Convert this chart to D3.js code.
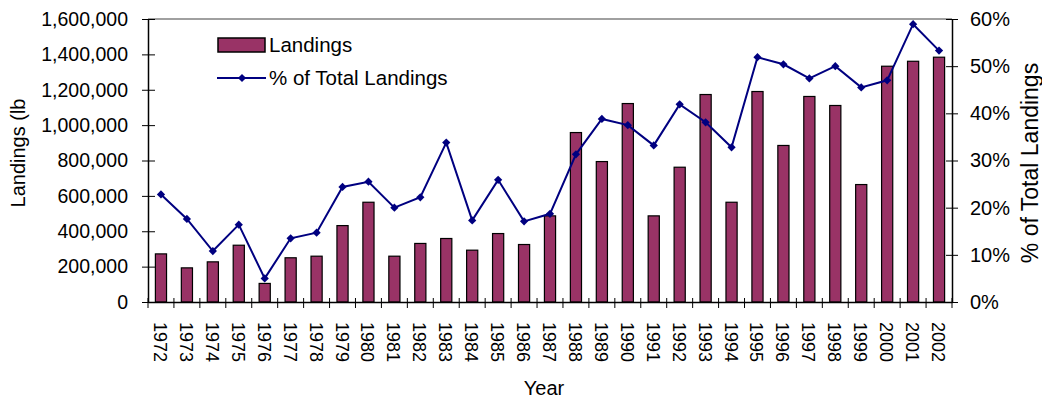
<!DOCTYPE html>
<html>
<head>
<meta charset="utf-8">
<script src="https://cdn.jsdelivr.net/npm/d3@7"></script>
<style>
  body { margin: 0; background: #fff; }
  text { font-family: "Liberation Sans", Arial, sans-serif; fill: #000; }
</style>
</head>
<body>
<div id="chart"></div>
<script>
// Data
var years = ["1972","1973","1974","1975","1976","1977","1978","1979","1980","1981",
             "1982","1983","1984","1985","1986","1987","1988","1989","1990","1991",
             "1992","1993","1994","1995","1996","1997","1998","1999","2000","2001","2002"];
var landings = [272000, 193000, 227000, 321000, 105000, 250000, 259000, 432000, 564000, 259000,
                331000, 359000, 293000, 387000, 325000, 487000, 958000, 794000, 1122000, 487000,
                762000, 1173000, 564000, 1190000, 885000, 1162000, 1111000, 664000, 1333000, 1361000, 1384000];
var pctTotal = [22.8, 17.6, 10.8, 16.4, 5.0, 13.5, 14.7, 24.4, 25.5, 20.0,
                22.2, 33.8, 17.3, 25.9, 17.1, 18.7, 31.3, 38.8, 37.5, 33.2,
                41.9, 38.1, 32.8, 51.9, 50.4, 47.4, 50.0, 45.5, 47.0, 58.9, 53.3];
var leftTicks = [0, 200000, 400000, 600000, 800000, 1000000, 1200000, 1400000, 1600000];
var rightTicks = [0, 10, 20, 30, 40, 50, 60];

var svgWidth = 1042;
var svgHeight = 400;
var margin = { top: 19, right: 90, bottom: 98, left: 148 };
var width = svgWidth - margin.left - margin.right;
var height = svgHeight - margin.top - margin.bottom;

var svg = d3.select("#chart")
    .append("svg")
    .attr("width", svgWidth)
    .attr("height", svgHeight);

var chartGroup = svg.append("g")
    .attr("transform", `translate(${margin.left}, ${margin.top})`);

// Scales
var xBand = d3.scaleBand().domain(years).range([0, width]).padding(0);
var yLeft = d3.scaleLinear().domain([0, 1600000]).range([height, 0]);
var yRight = d3.scaleLinear().domain([0, 60]).range([height, 0]);

// top border of plot area
chartGroup.append("line")
    .attr("x1", 0).attr("x2", width)
    .attr("y1", 0).attr("y2", 0)
    .attr("stroke", "#808080")
    .attr("stroke-width", 1.5);

// Bars
var barW = xBand.bandwidth() * 0.43;
chartGroup.append("g")
    .selectAll("rect")
    .data(landings)
    .enter()
    .append("rect")
    .attr("x", (d, i) => xBand(years[i]) + xBand.bandwidth() / 2 - barW / 2)
    .attr("y", d => yLeft(d))
    .attr("width", barW)
    .attr("height", d => height - yLeft(d))
    .attr("fill", "#993366")
    .attr("stroke", "#000")
    .attr("stroke-width", 1.2);

// Line
var line = d3.line()
    .x((d, i) => xBand(years[i]) + xBand.bandwidth() / 2)
    .y(d => yRight(d));

chartGroup.append("path")
    .datum(pctTotal)
    .attr("d", line)
    .attr("fill", "none")
    .attr("stroke", "#000080")
    .attr("stroke-width", 2);

var diamond = d3.symbol().type(d3.symbolSquare).size(34);
chartGroup.append("g")
    .selectAll("path")
    .data(pctTotal)
    .enter()
    .append("path")
    .attr("d", diamond)
    .attr("transform", (d, i) => `translate(${xBand(years[i]) + xBand.bandwidth() / 2}, ${yRight(d)}) rotate(45)`)
    .attr("fill", "#000080");

// Axes
var leftAxis = d3.axisLeft(yLeft)
    .tickValues(leftTicks)
    .tickFormat(d3.format(","))
    .tickSizeInner(6).tickSizeOuter(0).tickPadding(14);
var gLeft = chartGroup.append("g").call(leftAxis);
gLeft.selectAll(".tick line").attr("x2", 7).attr("x1", -6);
gLeft.selectAll("text").style("font-size", "19.5px");

var rightAxis = d3.axisRight(yRight)
    .tickValues(rightTicks)
    .tickFormat(d => d + "%")
    .tickSizeInner(6).tickSizeOuter(0).tickPadding(12);
var gRight = chartGroup.append("g")
    .attr("transform", `translate(${width}, 0)`)
    .call(rightAxis);
gRight.selectAll(".tick line").attr("x1", -6).attr("x2", 6);
gRight.selectAll("text").style("font-size", "20px");

var bottomAxis = d3.axisBottom(xBand).tickSize(0).tickSizeOuter(0);
var gBottom = chartGroup.append("g")
    .attr("transform", `translate(0, ${height})`)
    .call(bottomAxis);
gBottom.selectAll("text")
    .style("font-size", "18px")
    .attr("text-anchor", "start")
    .attr("dy", null)
    .attr("y", 0)
    .attr("transform", "translate(-7, 20) rotate(90)");
// ticks between categories
gBottom.append("g")
    .selectAll("line")
    .data(years.concat(["end"]))
    .enter()
    .append("line")
    .attr("x1", (d, i) => i * xBand.step())
    .attr("x2", (d, i) => i * xBand.step())
    .attr("y1", -4)
    .attr("y2", 6)
    .attr("stroke", "#000");

[gLeft, gRight, gBottom].forEach(g => g.select(".domain").attr("stroke", "#000").attr("stroke-width", 1.5));

// Axis titles
svg.append("text")
    .attr("transform", "translate(25, 153) rotate(-90)")
    .attr("text-anchor", "middle")
    .style("font-size", "20px")
    .text("Landings (lb");

svg.append("text")
    .attr("transform", "translate(1038, 163) rotate(-90)")
    .attr("text-anchor", "middle")
    .style("font-size", "23px")
    .text("% of Total Landings");

svg.append("text")
    .attr("x", 544)
    .attr("y", 395)
    .attr("text-anchor", "middle")
    .style("font-size", "20px")
    .text("Year");

// Legend
var legend = svg.append("g");
legend.append("rect")
    .attr("x", 218).attr("y", 38)
    .attr("width", 47).attr("height", 14)
    .attr("fill", "#993366")
    .attr("stroke", "#000")
    .attr("stroke-width", 1.5);
legend.append("text")
    .attr("x", 269).attr("y", 52)
    .style("font-size", "20.5px")
    .text("Landings");
legend.append("line")
    .attr("x1", 217).attr("x2", 266)
    .attr("y1", 78).attr("y2", 78)
    .attr("stroke", "#000080")
    .attr("stroke-width", 2);
legend.append("path")
    .attr("d", diamond)
    .attr("transform", "translate(242, 78) rotate(45)")
    .attr("fill", "#000080");
legend.append("text")
    .attr("x", 269).attr("y", 85)
    .style("font-size", "20.5px")
    .text("% of Total Landings");
</script>
</body>
</html>
